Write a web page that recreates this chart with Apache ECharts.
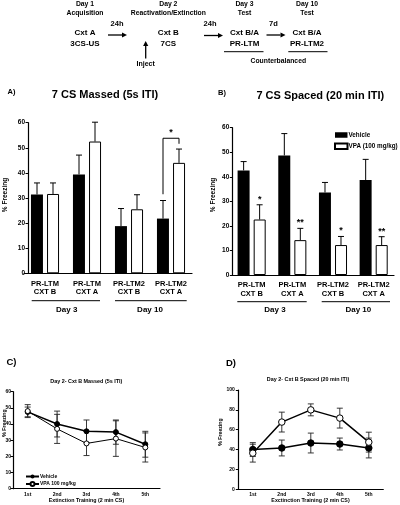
<!DOCTYPE html>
<html><head><meta charset="utf-8">
<script src="https://cdn.jsdelivr.net/npm/echarts@6/dist/echarts.min.js"></script>
<style>html,body{margin:0;padding:0;background:#fff}#c{width:400px;height:505px}</style>
</head><body><div id="c"></div>
<script>
// ---- data ----
const barCategories = ['PR-LTM\nCXT B', 'PR-LTM\nCXT A', 'PR-LTM2\nCXT B', 'PR-LTM2\nCXT A'];
const massedVehicle = [31.4, 39.4, 18.8, 21.8];
const massedVehicleErr = [4.6, 7.7, 7.0, 7.2];
const massedVPA = [31.6, 52.5, 25.5, 44.0];
const massedVPAErr = [4.4, 7.7, 5.8, 5.5];
const massedBracket = [3, 31.5, 53.8, 51.6]; // category, left foot, top, right foot
const massedBracketStar = '*';
const spacedVehicle = [42.6, 48.7, 33.6, 38.7];
const spacedVehicleErr = [3.6, 8.9, 4.1, 8.4];
const spacedVPA = [22.6, 14.2, 12.2, 12.2];
const spacedVPAErr = [6.0, 4.8, 3.5, 3.4];
const spacedStars = ['*', '**', '*', '**'];
const extCategories = ['1st', '2nd', '3rd', '4th', '5th'];
const massedExtVehicle = [47.5, 40.0, 35.5, 35.0, 27.5];
const massedExtVehicleErr = [3, 8, 7, 7.5, 8];
const massedExtVPA = [48.0, 37.0, 28.0, 31.0, 25.5];
const massedExtVPAErr = [4, 9, 7.5, 11, 9];
const spacedExtVehicle = [40.0, 41.6, 46.6, 45.6, 41.6];
const spacedExtVehicleErr = [7, 8, 10, 6, 10];
const spacedExtVPA = [36.4, 67.7, 80.0, 71.7, 47.5];
const spacedExtVPAErr = [9, 10, 6, 10, 10];
const yTicksBar = [0, 60, 10];
const yTicksC = [0, 60, 10];
const yTicksD = [0, 100, 20];

// ---- helpers ----
const FF = 'Liberation Sans, Arial, Helvetica, sans-serif';
function txt(text, x, y, size, extra) {
  return Object.assign({
    type: 'text', x: x, y: y, silent: true,
    style: { text: text, align: 'center', verticalAlign: 'middle', fontSize: size, fontWeight: 'bold', fontFamily: FF, fill: '#000' }
  }, extra || {});
}
function hline(x1, x2, y, w) {
  return { type: 'line', silent: true, shape: { x1: x1, y1: y, x2: x2, y2: y }, style: { stroke: '#000', lineWidth: w || 1 } };
}
function arrow(x1, y1, x2, y2) {
  const dx = x2 - x1, dy = y2 - y1, L = Math.hypot(dx, dy), ux = dx / L, uy = dy / L;
  const hl = 5, hw = 2.6;
  const bx = x2 - ux * hl, by = y2 - uy * hl;
  return [
    { type: 'line', silent: true, shape: { x1: x1, y1: y1, x2: bx, y2: by }, style: { stroke: '#000', lineWidth: 1.3 } },
    { type: 'polygon', silent: true, shape: { points: [[x2, y2], [bx - uy * hw, by + ux * hw], [bx + uy * hw, by - ux * hw]] }, style: { fill: '#000' } }
  ];
}

function barErr(grid, vals, errs, side, stars) {
  return {
    type: 'custom', xAxisIndex: grid, yAxisIndex: grid, z: 1, silent: true,
    data: vals.map((v, i) => [i, v, v + errs[i]]),
    renderItem: function (params, api) {
      const i = api.value(0);
      const b = api.coord([i, api.value(1)]);
      const t = api.coord([i, api.value(2)]);
      const x = b[0] + side * 8;
      const ch = [
        { type: 'line', shape: { x1: x, y1: b[1], x2: x, y2: t[1] }, style: { stroke: '#000', lineWidth: 1 } },
        { type: 'line', shape: { x1: x - 3, y1: t[1], x2: x + 3, y2: t[1] }, style: { stroke: '#000', lineWidth: 1 } }
      ];
      if (stars && stars[i]) {
        ch.push({ type: 'text', x: x, y: t[1] - 1, style: { text: stars[i], align: 'center', verticalAlign: 'bottom', fontSize: 9, fontWeight: 'bold', fontFamily: FF, fill: '#000' } });
      }
      return { type: 'group', children: ch };
    }
  };
}
function lineErr(grid, vals, errs) {
  return {
    type: 'custom', xAxisIndex: grid, yAxisIndex: grid, z: 1, silent: true,
    data: vals.map((v, i) => [i, v - errs[i], v + errs[i]]),
    renderItem: function (params, api) {
      const i = api.value(0);
      const lo = api.coord([i, api.value(1)]);
      const hi = api.coord([i, api.value(2)]);
      const x = lo[0];
      return { type: 'group', children: [
        { type: 'line', shape: { x1: x, y1: lo[1], x2: x, y2: hi[1] }, style: { stroke: '#222', lineWidth: 0.9 } },
        { type: 'line', shape: { x1: x - 3, y1: lo[1], x2: x + 3, y2: lo[1] }, style: { stroke: '#222', lineWidth: 0.9 } },
        { type: 'line', shape: { x1: x - 3, y1: hi[1], x2: x + 3, y2: hi[1] }, style: { stroke: '#222', lineWidth: 0.9 } }
      ] };
    }
  };
}
function yAx(grid, ticks, size, margin, offset) {
  return {
    type: 'value', gridIndex: grid, min: ticks[0], max: ticks[1], interval: ticks[2], offset: offset || 0,
    axisLine: { show: true, lineStyle: { color: '#000', width: 1.2 } },
    axisTick: { show: true, length: 2.5, lineStyle: { color: '#000', width: 1 } },
    axisLabel: { fontSize: size, fontWeight: 'bold', fontFamily: FF, color: '#000', margin: margin },
    splitLine: { show: false }
  };
}
function xAxBar(grid) {
  return {
    type: 'category', gridIndex: grid, data: barCategories,
    axisLine: { show: true, lineStyle: { color: '#000', width: 1.2 } },
    axisTick: { show: false },
    axisLabel: { fontSize: 7.5, fontWeight: 'bold', fontFamily: FF, color: '#000', margin: 6, lineHeight: 8.5, interval: 0 }
  };
}
function xAxLine(grid) {
  return {
    type: 'category', gridIndex: grid, data: extCategories, boundaryGap: true,
    axisLine: { show: true, lineStyle: { color: '#000', width: 1.2 } },
    axisTick: { show: false },
    axisLabel: { fontSize: 5, fontWeight: 'bold', fontFamily: FF, color: '#000', margin: 3, interval: 0 }
  };
}

const graphics = [];
// top diagram
[
  ['Day 1', 85, 4, 6.8], ['Acquisition', 85, 13.3, 6.8], ['Cxt A', 85, 32.5, 8], ['3CS-US', 85, 43.5, 8],
  ['24h', 117, 24, 7.5],
  ['Day 2', 168.3, 4, 6.8], ['Reactivation/Extinction', 168.3, 13.3, 6.8], ['Cxt B', 168.3, 32.5, 8], ['7CS', 168.3, 43.5, 8],
  ['Inject', 145.7, 64, 7],
  ['24h', 210, 24, 7.5],
  ['Day 3', 244.5, 4, 6.8], ['Test', 244.5, 13.3, 6.8], ['Cxt B/A', 244.5, 33, 8], ['PR-LTM', 244.5, 44, 8],
  ['7d', 273.5, 24, 7.5],
  ['Day 10', 307, 4, 6.8], ['Test', 307, 13.3, 6.8], ['Cxt B/A', 307, 33, 8], ['PR-LTM2', 307, 44, 8],
  ['Counterbalanced', 278.3, 61, 6.8]
].forEach(a => graphics.push(txt(a[0], a[1], a[2], a[3])));
graphics.push(...arrow(108, 35, 127, 35), ...arrow(204, 35.5, 223, 35.5), ...arrow(266.5, 35, 285.5, 35), ...arrow(145.7, 58.5, 145.7, 41));
graphics.push(hline(224, 263.5, 51.7), hline(288.3, 327.5, 51.7));
// panel A/B text
graphics.push(txt('A)', 11.5, 92.3, 7.5), txt('B)', 222, 92.7, 7.5));
graphics.push(txt('7 CS Massed (5s ITI)', 105, 95, 11), txt('7 CS Spaced (20 min ITI)', 320.3, 95.5, 11));
graphics.push(txt('% Freezing', 5.5, 195, 6.5, { rotation: Math.PI / 2 }), txt('% Freezing', 213, 195, 6.5, { rotation: Math.PI / 2 }));
graphics.push(hline(31.7, 100, 300.7), txt('Day 3', 66.7, 309.5, 8), hline(115, 186.7, 300.7), txt('Day 10', 150, 309.5, 8));
graphics.push(hline(237.3, 306.7, 301.7), txt('Day 3', 275, 310, 8), hline(321.7, 390, 301.7), txt('Day 10', 358.3, 310, 8));
// panel C/D text
graphics.push(txt('C)', 11.5, 362.3, 9.5), txt('D)', 231, 363.3, 9.5));
graphics.push(txt('Day 2- Cxt B Massed (5s ITI)', 86.3, 381.7, 5.4), txt('Day 2- Cxt B Spaced (20 min ITI)', 308, 380, 5.4));
graphics.push(txt('% Freezing', 5, 423, 5.2, { rotation: Math.PI / 2 }), txt('% Freezing', 220.7, 432, 5.2, { rotation: Math.PI / 2 }));
graphics.push(txt('Extinction Training (2 min CS)', 86.5, 500.7, 5.3), txt('Exctinction Training (2 min CS)', 310.5, 500.7, 5.3));

const legendNames = { 'C-Vehicle': 'Vehicle', 'C-VPA': 'VPA 100 mg/kg' };

const option = {
  animation: false,
  backgroundColor: '#fff',
  textStyle: { fontFamily: FF },
  grid: [
    { left: 24, top: 122.7, width: 168, height: 150.6 },
    { left: 231.3, top: 127.7, width: 162.7, height: 147.3 },
    { left: 13, top: 391.7, width: 147, height: 97 },
    { left: 238.3, top: 390, width: 145, height: 99.3 }
  ],
  xAxis: [xAxBar(0), xAxBar(1), xAxLine(2), xAxLine(3)],
  yAxis: [yAx(0, yTicksBar, 6.5, 3, -4), yAx(1, yTicksBar, 6.5, 3, -1), yAx(2, yTicksC, 5, 2), yAx(3, yTicksD, 5, 3.5)],
  legend: [
    { data: ['Vehicle', 'VPA (100 mg/kg)'], left: 329, top: 127, orient: 'vertical', icon: 'rect', itemWidth: 12.5, itemHeight: 5.5, itemGap: 4.5,
      selectedMode: false, textStyle: { fontSize: 6.3, fontWeight: 'bold', fontFamily: FF, color: '#000', padding: [0, 0, 0, -4] } },
    { data: ['C-Vehicle', 'C-VPA'], formatter: n => legendNames[n], left: 20, top: 469, orient: 'vertical', itemWidth: 13, itemHeight: 5, itemGap: 2,
      selectedMode: false, textStyle: { fontSize: 5, fontWeight: 'bold', fontFamily: FF, color: '#000', padding: [0, 0, 0, -4] } }
  ],
  graphic: graphics,
  series: [
    { type: 'bar', name: 'Vehicle', xAxisIndex: 0, yAxisIndex: 0, data: massedVehicle, barWidth: 12, barGap: '34%', itemStyle: { color: '#000' }, z: 2, silent: true },
    { type: 'bar', name: 'VPA (100 mg/kg)', xAxisIndex: 0, yAxisIndex: 0, data: massedVPA, barWidth: 12, barGap: '34%', itemStyle: { color: '#fff', borderColor: '#000', borderWidth: 1 }, z: 2, silent: true },
    barErr(0, massedVehicle, massedVehicleErr, -1),
    barErr(0, massedVPA, massedVPAErr, 1),
    {
      type: 'custom', xAxisIndex: 0, yAxisIndex: 0, z: 3, silent: true,
      data: [massedBracket],
      renderItem: function (params, api) {
        const i = api.value(0);
        const l = api.coord([i, api.value(1)]);
        const t = api.coord([i, api.value(2)]);
        const r = api.coord([i, api.value(3)]);
        const xl = l[0] - 8, xr = l[0] + 8;
        return { type: 'group', children: [
          { type: 'polyline', shape: { points: [[xl, l[1]], [xl, t[1]], [xr, t[1]], [xr, r[1]]] }, style: { stroke: '#000', lineWidth: 1, fill: null } },
          { type: 'text', x: (xl + xr) / 2, y: t[1] - 1, style: { text: massedBracketStar, align: 'center', verticalAlign: 'bottom', fontSize: 9, fontWeight: 'bold', fontFamily: FF, fill: '#000' } }
        ] };
      }
    },
    { type: 'bar', name: 'Vehicle', xAxisIndex: 1, yAxisIndex: 1, data: spacedVehicle, barWidth: 12, barGap: '34%', itemStyle: { color: '#000' }, z: 2, silent: true },
    { type: 'bar', name: 'VPA (100 mg/kg)', xAxisIndex: 1, yAxisIndex: 1, data: spacedVPA, barWidth: 12, barGap: '34%', itemStyle: { color: '#fff', borderColor: '#000', borderWidth: 1 }, z: 2, silent: true },
    barErr(1, spacedVehicle, spacedVehicleErr, -1),
    barErr(1, spacedVPA, spacedVPAErr, 1, spacedStars),
    lineErr(2, massedExtVehicle, massedExtVehicleErr),
    lineErr(2, massedExtVPA, massedExtVPAErr),
    { type: 'line', name: 'C-Vehicle', xAxisIndex: 2, yAxisIndex: 2, data: massedExtVehicle, symbol: 'circle', symbolSize: 5, z: 3, silent: true,
      lineStyle: { color: '#000', width: 1.5 }, itemStyle: { color: '#000', borderColor: '#000' } },
    { type: 'line', name: 'C-VPA', xAxisIndex: 2, yAxisIndex: 2, data: massedExtVPA, symbol: 'circle', symbolSize: 5, z: 3, silent: true,
      lineStyle: { color: '#000', width: 1 }, itemStyle: { color: '#fff', borderColor: '#000', borderWidth: 1 } },
    lineErr(3, spacedExtVehicle, spacedExtVehicleErr),
    lineErr(3, spacedExtVPA, spacedExtVPAErr),
    { type: 'line', name: 'D-Vehicle', xAxisIndex: 3, yAxisIndex: 3, data: spacedExtVehicle, symbol: 'circle', symbolSize: 6.5, z: 3, silent: true,
      lineStyle: { color: '#000', width: 1.5 }, itemStyle: { color: '#000', borderColor: '#000' } },
    { type: 'line', name: 'D-VPA', xAxisIndex: 3, yAxisIndex: 3, data: spacedExtVPA, symbol: 'circle', symbolSize: 6.5, z: 3, silent: true,
      lineStyle: { color: '#000', width: 1.5 }, itemStyle: { color: '#fff', borderColor: '#000', borderWidth: 1 } }
  ]
};
const chart = echarts.init(document.getElementById('c'), null, { renderer: 'canvas' });
chart.setOption(option);
</script></body></html>
